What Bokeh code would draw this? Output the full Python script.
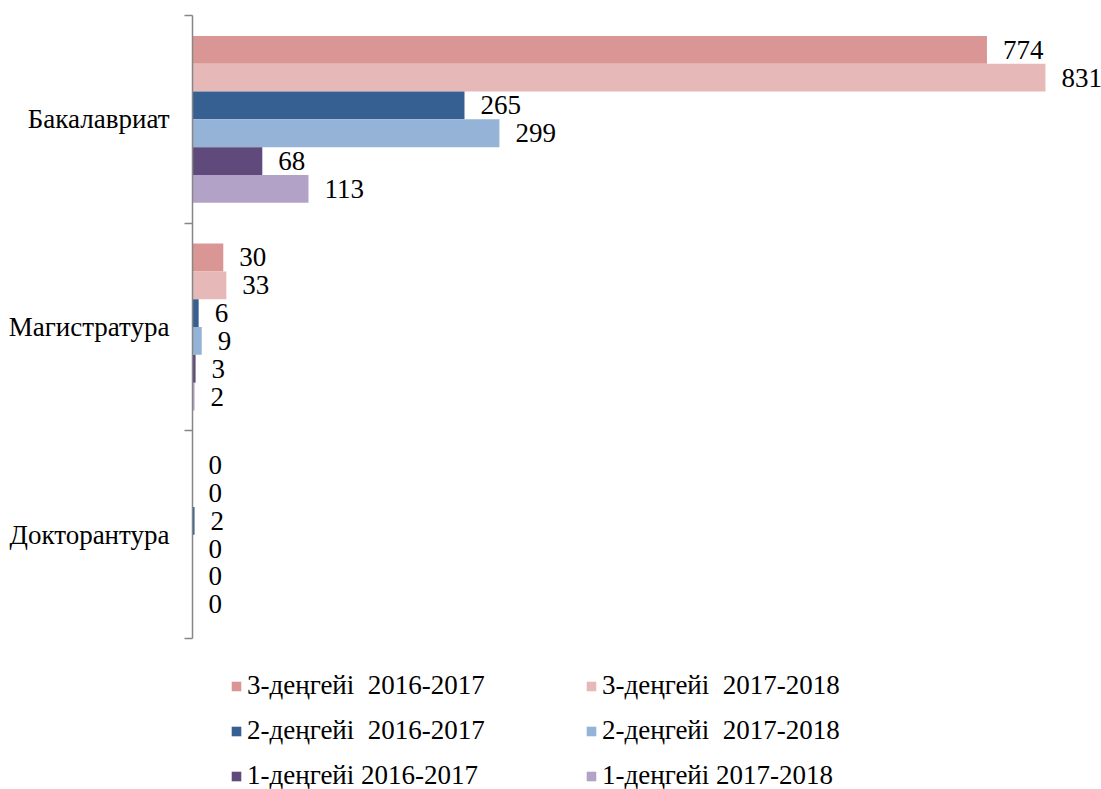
from bokeh.plotting import figure
from bokeh.models import (ColumnDataSource, Range1d, FixedTicker, LabelSet,
                          Legend, LegendItem)
from bokeh.embed import file_html
from bokeh.resources import INLINE

categories = ["Бакалавриат", "Магистратура", "Докторантура"]
series_names = ["3-деңгейі  2016-2017", "3-деңгейі  2017-2018",
                "2-деңгейі  2016-2017", "2-деңгейі  2017-2018",
                "1-деңгейі 2016-2017", "1-деңгейі 2017-2018"]
lvl3_2016 = [774, 30, 0]
lvl3_2017 = [831, 33, 0]
lvl2_2016 = [265, 6, 2]
lvl2_2017 = [299, 9, 0]
lvl1_2016 = [68, 3, 0]
lvl1_2017 = [113, 2, 0]
series_values = [lvl3_2016, lvl3_2017, lvl2_2016, lvl2_2017, lvl1_2016, lvl1_2017]
colors = ["#D99694", "#E6B9B8", "#376092", "#95B3D7", "#604A7B", "#B3A2C7"]

FONT = "Liberation Serif"
FS = "27px"

W, H = 1101, 789
p = figure(width=W, height=H, output_backend="svg", toolbar_location=None,
           x_range=Range1d(0, 885.6), y_range=Range1d(3.727, 0),
           x_axis_location=None, min_border_left=192, min_border_top=15,
           min_border_right=0, min_border_bottom=0)
p.outline_line_color = None
p.xgrid.visible = False
p.ygrid.visible = False
p.background_fill_color = "white"

n = len(series_values)
bar_h = 0.1339
start = (1 - n * bar_h) / 2

renderers = []
for j, vals in enumerate(series_values):
    ys = [i + start + (j + 0.5) * bar_h for i in range(len(categories))]
    src = ColumnDataSource(dict(y=ys, v=vals, lab=[str(v) for v in vals]))
    r = p.hbar(y="y", left=0, right="v", height=bar_h, source=src,
               fill_color=colors[j], line_color=None)
    renderers.append(r)
    p.add_layout(LabelSet(x="v", y="y", text="lab", source=src, x_offset=16,
                          text_align="left", text_baseline="middle",
                          text_font=FONT, text_font_size=FS, text_color="black"))

ax = p.yaxis[0]
ax.bounds = (0, 3)
ax.ticker = FixedTicker(ticks=[0.5, 1.5, 2.5], minor_ticks=[0, 1, 2, 3])
ax.major_label_overrides = {0.5: categories[0], 1.5: categories[1], 2.5: categories[2]}
ax.major_label_text_font = FONT
ax.major_label_text_font_size = FS
ax.major_label_text_color = "black"
ax.major_label_standoff = 15
ax.major_tick_out = 0
ax.major_tick_in = 0
ax.minor_tick_out = 8
ax.minor_tick_in = 0
ax.axis_line_color = "#868686"
ax.axis_line_width = 1.5
ax.minor_tick_line_color = "#868686"
ax.minor_tick_line_width = 1.5

def make_legend(idx, x):
    items = [LegendItem(label=series_names[k], renderers=[renderers[k]]) for k in idx]
    lg = Legend(items=items, location=(x, -2), orientation="vertical",
                glyph_width=12, glyph_height=12, label_height=31, spacing=14,
                label_standoff=5, padding=0, margin=0,
                border_line_color=None, background_fill_alpha=0,
                label_text_font=FONT, label_text_font_size=FS,
                label_text_color="black")
    return lg

p.add_layout(make_legend([0, 2, 4], 38), "center")
p.add_layout(make_legend([1, 3, 5], 393), "center")

html = file_html(p, INLINE)
html = html.replace("<body>", '<body style="overflow:hidden">', 1)
open("out.html", "w").write(html)
